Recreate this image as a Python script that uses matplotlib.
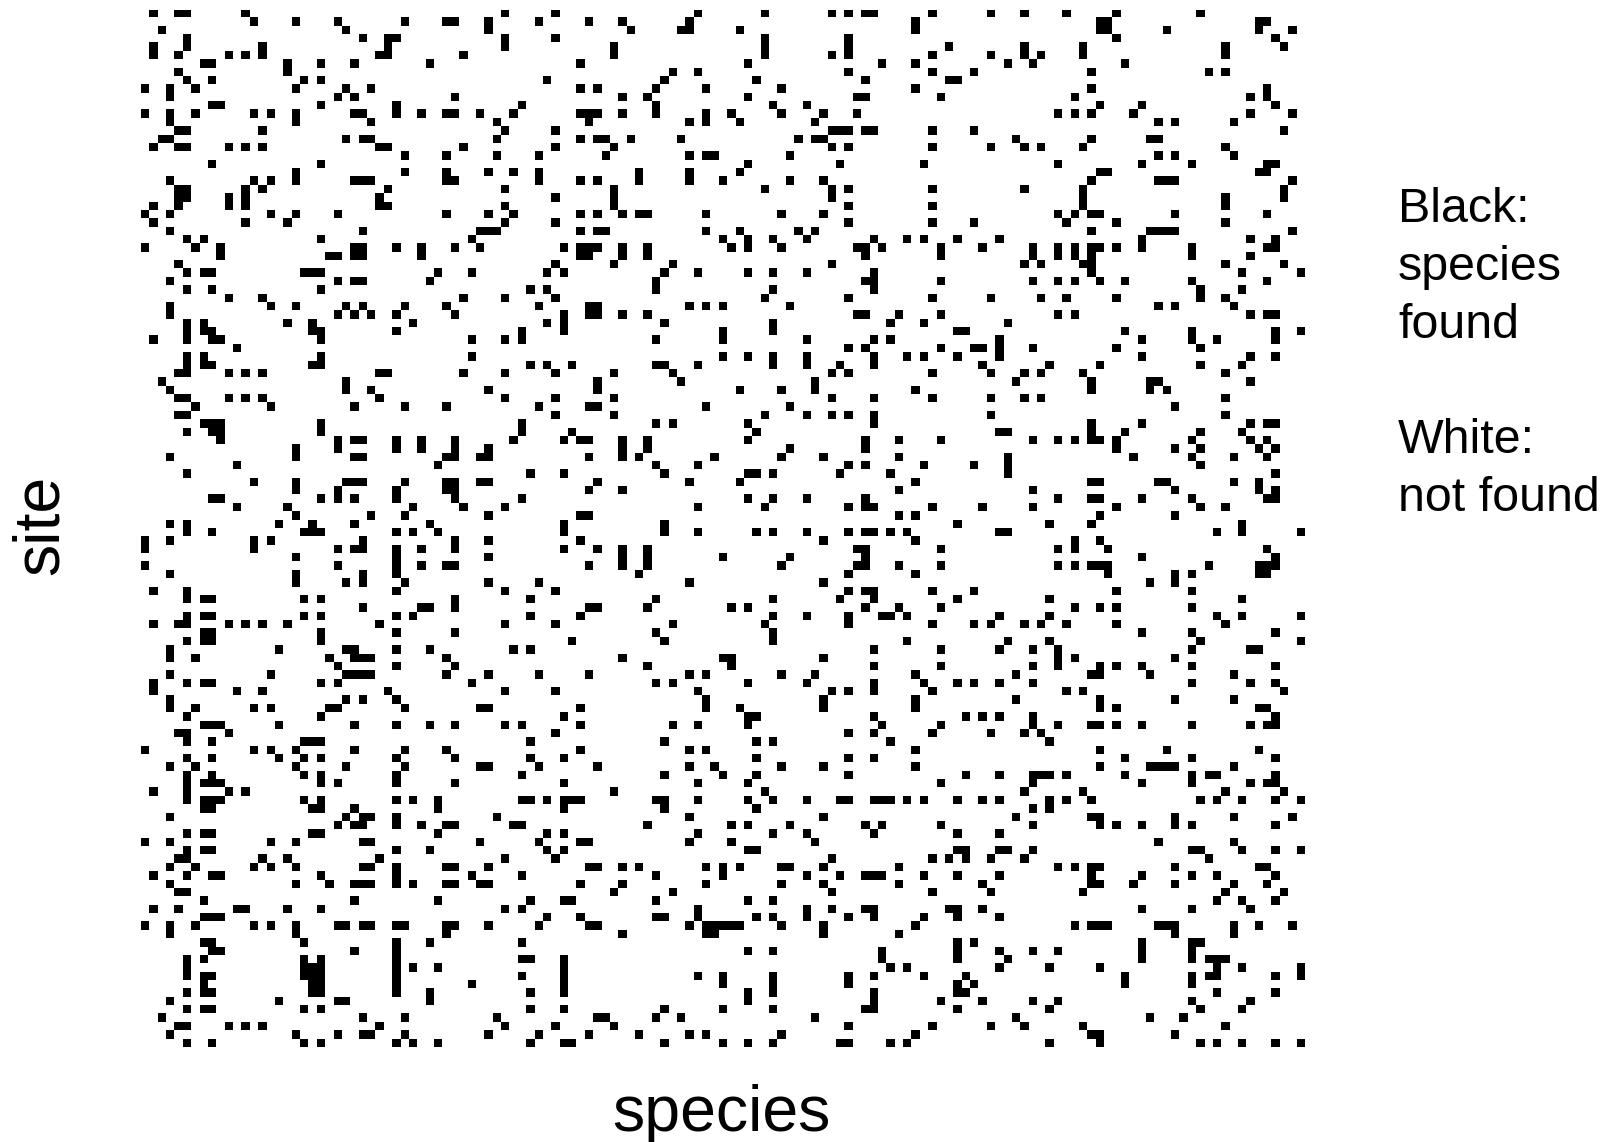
import numpy as np
import matplotlib
matplotlib.use('Agg')
import matplotlib.pyplot as plt

n_species = 139

# 每行: 该 site 发现的 species 下标
found = [
    [1,4,5,12,43,49,66,74,82,84,86,87,94,101,105,110,116,126],
    [13,18,23,31,36,37,41,47,53,57,65,92,114,115,133,134],
    [2,24,41,58,64,65,71,92,114,115,122,133,137],
    [5,26,29,30,43,49,74,84,116,135],
    [1,5,14,29,43,56,74,84,96,105,112,129,136],
    [1,4,10,12,14,28,29,38,56,74,82,84,94,101,105,107,112,129],
    [7,8,17,21,25,34,52,72,88,92,103,106,117],
    [4,17,63,66,84,94,99,113,127,129],
    [5,8,19,21,48,62,73,86,96,97],
    [0,3,6,18,24,27,52,54,61,67,76,92,113,134],
    [3,23,25,37,57,60,72,85,86,95,111,132,134],
    [8,9,21,30,45,61,75,79,114,119,135],
    [0,3,6,13,15,18,25,26,30,33,36,37,40,44,52,53,54,57,61,67,70,76,81,85,109,111,113,118,132,137],
    [3,18,27,42,53,65,67,71,80,121,123,130],
    [4,5,14,43,49,82,83,84,86,87,94,99,136],
    [2,3,24,26,27,42,52,54,55,58,64,78,80,81,104,113,120,121],
    [1,4,5,10,12,14,28,29,38,49,56,82,84,94,101,105,107,112,129],
    [31,36,42,47,55,65,67,68,77,121,123,130],
    [8,21,72,83,93,109,119,125,134,135],
    [18,31,36,41,44,47,59,65,71,114,115,133,134],
    [3,13,15,18,25,26,27,36,37,47,52,54,59,65,69,77,81,113,121,122,123,137],
    [4,5,12,14,29,43,56,74,82,84,94,105,112,136],
    [4,5,10,12,28,49,56,82,112,129,136],
    [1,4,10,12,28,29,43,56,84,94,112,129],
    [0,3,15,18,23,36,41,44,52,54,57,59,60,67,76,81,109,111,113,114,123,134],
    [1,12,17,43,49,84,94,99,110,116,129],
    [3,26,40,41,42,52,54,55,67,71,78,80,113,120,121,122,123,137],
    [5,7,21,39,69,72,75,79,87,91,93,97,102,119,132,135],
    [0,6,9,25,26,30,33,37,40,50,52,53,54,57,60,70,72,76,85,86,88,95,100,106,109,111,113,114,116,119,125,134,135],
    [9,22,23,25,26,33,52,53,57,60,86,95,106,109,111,113,125,132],
    [4,49,56,63,82,105,107,112,113,129,136],
    [5,7,8,19,20,21,35,39,48,50,62,66,72,75,79,87,113,131,138],
    [3,23,25,26,34,61,86,87,95,106,109,111,114,117,125,134],
    [5,8,21,46,48,61,75,87,126,131],
    [10,14,38,43,49,74,84,94,101,107,110,116,126,129],
    [3,15,18,24,26,31,36,47,53,54,65,67,69,77,121,123,130],
    [3,23,25,27,30,37,50,53,54,57,60,85,86,90,95,109,111,132,134,135],
    [5,7,17,20,32,48,50,62,75,89,93,103],
    [5,7,8,20,21,30,45,50,69,75,97,98,117,125,135,138],
    [1,5,8,9,21,39,43,45,61,69,79,87,89,102,119,125,128,135],
    [11,84,86,95,99,100,102,106,116,126],
    [5,7,21,39,69,72,75,79,87,91,93,97,102,119,132,135],
    [5,7,8,20,21,46,48,51,61,62,66,75,79,83,87,100,108,114,126,131],
    [4,5,10,12,14,28,29,38,43,49,56,63,82,84,94,101,105,107,112,129],
    [2,24,54,64,80,104,113,120,121,132],
    [3,24,27,41,54,71,76,80,92,113,120,122],
    [4,5,10,12,14,28,43,49,56,82,87,94,101,105,107,129],
    [6,15,25,31,36,47,53,54,67,77,123],
    [4,5,49,56,74,79,82,84,87,101,129],
    [7,8,9,21,45,61,63,72,87,113,119,132,134,135],
    [5,8,9,21,45,51,73,102,103,113,117,126,131],
    [9,23,25,26,30,33,37,44,50,52,53,57,60,72,86,90,95,106,109,111,113,114,116,125,132,134],
    [18,23,30,33,37,41,57,60,77,86,116,123,126,133,135],
    [3,18,25,26,36,37,40,41,53,57,59,68,76,81,90,103,118,125,130,134],
    [11,35,61,66,84,86,93,99,103,126],
    [5,46,50,62,72,73,75,83,89,103,135],
    [13,18,24,25,26,31,36,37,40,41,54,65,71,92,113,114,121,122,130,133],
    [18,23,30,36,37,53,57,90,106,123,133,135],
    [8,9,21,23,25,30,37,45,72,75,79,86,109,113,114,119,125,134,135],
    [11,17,32,38,43,66,74,84,86,87,94,100,106,116,126,129],
    [18,27,31,41,52,53,90,92,114,123],
    [3,5,16,20,25,34,50,62,97,108,113,131],
    [5,8,19,20,21,30,32,35,50,62,66,73,75,79,84,86,87,89,91,102,103,128,131,138],
    [0,3,13,15,26,37,41,52,81,92,111,114],
    [0,13,23,25,26,30,33,37,50,54,57,60,85,86,95,109,111,115,134],
    [18,30,41,57,60,69,77,86,119,135],
    [0,23,30,33,36,37,53,57,60,76,85,86,90,95,109,111,113,114,115,127,133,134,135],
    [3,18,26,30,59,84,92,115,123,125,133,134],
    [18,24,26,31,41,47,65,81,120,123],
    [1,5,30,43,49,84,86,87,94,99,116,125],
    [5,7,8,19,21,37,46,61,75,83,87,97,108,131],
    [26,33,34,37,53,54,60,70,72,86,90,95,111,114,116,125],
    [5,7,8,19,21,30,32,46,52,75,79,84,88,89,91,102,108,128,131,138],
    [1,4,5,10,12,14,17,28,43,49,63,74,84,94,99,101,105,107,110,116,129],
    [7,8,21,30,37,61,75,119,125,135],
    [5,7,8,21,51,62,75,91,103,108,126,138],
    [3,16,24,25,30,34,44,46,87,95,102,106,109,125,132,133],
    [3,6,22,25,26,27,36,57,69,70,81,109,111,123],
    [23,30,37,60,70,87,95,106,109,114,116,119,125,135],
    [3,15,24,25,26,27,36,41,47,53,65,67,76,80,92,104,113,114,120,130],
    [1,5,7,8,21,23,39,61,63,72,79,87,93,97,99,102,106,125,132,135],
    [1,11,14,29,43,49,66,82,84,87,94,110,112,136],
    [3,24,26,30,67,81,92,104,114,123,130],
    [3,6,13,15,22,23,31,40,41,52,67,71,81,92,114,116,133,134],
    [5,21,50,72,73,87,98,100,102,106,135],
    [7,8,9,16,25,30,34,37,43,45,52,63,66,72,88,95,106,109,113,114,116,119,125,132,134,135],
    [4,5,10,49,84,87,94,101,105,107],
    [5,8,19,20,21,46,62,73,75,89,108],
    [0,13,15,18,25,31,36,52,65,67,92,114,122,133],
    [5,8,16,19,21,30,37,46,50,73,84,87,117,125,135],
    [3,6,18,24,31,40,41,47,54,65,68,76,81,92,114,120,121,122,123,130],
    [5,8,19,21,30,45,62,69,73,84,98,102,106,107,108,110,117,125,127,128,135],
    [5,7,8,9,21,23,30,37,50,66,72,95,106,119,125,132,134,135],
    [1,5,10,12,56,74,105,112,129,136],
    [5,7,8,9,19,21,30,32,35,45,46,48,50,51,52,61,62,66,72,75,79,83,84,87,88,89,91,93,97,100,102,108,110,113,126,128,131,135,138],
    [7,8,20,21,25,35,50,62,73,106,108],
    [3,24,26,27,30,42,65,81,104,113,114,123,130,137],
    [23,25,26,30,33,36,37,44,45,60,70,72,77,86,88,95,106,114,116,119,123,125,135],
    [5,7,8,20,21,35,48,50,66,75,79,87,97,102],
    [0,3,15,18,26,27,40,47,52,53,65,70,80,121,130],
    [5,7,8,30,34,48,50,72,73,97,98,102,103,106,125,126,131,135,138],
    [4,5,14,17,28,43,49,82,94,96,98,101,105,127],
    [3,6,13,15,18,26,27,30,36,37,41,53,54,57,59,67,69,71,76,77,81,90,109,111,113,114,123,133,134],
    [1,5,8,9,21,30,39,45,61,69,79,83,86,87,88,93,97,102,113,119,125,128,135],
    [3,18,22,25,26,27,30,32,36,37,40,41,52,57,67,76,81,90,100,113,114,118,123,130,134],
    [4,5,56,63,82,94,101,112,129,136],
    [7,25,35,46,50,51,61,72,75,128,131,135],
    [1,4,11,12,17,21,43,45,66,79,82,86,87,96,97,100,119,125,132],
    [7,8,9,48,52,61,62,66,73,75,79,84,87,93,97,102],
    [0,3,6,13,15,18,23,24,26,27,30,31,36,37,41,47,53,54,65,67,68,69,70,71,76,81,92,111,113,114,115,121,122,123,130,133,137],
    [3,18,36,57,67,68,81,90,123,130],
    [7,8,19,30,34,45,97,99,119,125,126],
    [8,9,25,30,72,75,88,97,102,106,109,119,125],
    [5,7,19,21,30,45,46,50,88,97,103,119,125,127,128,129],
    [5,19,20,21,30,32,35,50,89,91,102,108,114,128,131,138],
    [5,7,8,19,20,21,30,45,50,66,69,75,84,87,93,98,117,125,127,128,135,138],
    [7,20,21,30,39,50,69,75,84,97,99,117,125],
    [5,7,8,20,21,30,34,46,50,72,75,87,97,98,128,135],
    [3,16,23,24,34,72,87,95,100,106,109,125,132],
    [5,7,8,19,21,46,50,62,69,75,86,87,97,108,126,131],
    [2,26,31,42,54,55,61,64,80,104,120,124],
    [4,5,10,12,14,28,43,49,56,84,94,101,105,112,129],
    [3,18,23,26,27,31,41,47,53,59,65,67,76,92,113,114,123],
    [5,8,19,21,30,32,35,46,50,51,62,69,72,75,83,84,89,91,108,114,126,128,131,135,138],
]

legend_lines = ['Black:', 'species', 'found', '', 'White:', 'not found']

plt.rcParams['font.family'] = ['Liberation Sans', 'DejaVu Sans']

W, H = 1613, 1142
fig = plt.figure(figsize=(W / 100, H / 100), dpi=100)

# 矩阵区域 (像素): x 140.5-1304.5, y 10.1-1047.5
ax = fig.add_axes([140.5 / W, 1 - 1047.5 / H, 1164.0 / W, 1037.4 / H])

mat = np.zeros((len(found), n_species))
for i, cols in enumerate(found):
    mat[i, cols] = 1

ax.imshow(mat, cmap='gray_r', vmin=0, vmax=1, aspect='auto', interpolation='nearest')
ax.axis('off')

fig.text(721 / W, 1 - 1114 / H, 'species', fontsize=46.4, ha='center', va='center', color='black')
fig.text(41 / W, 1 - 525 / H, 'site', fontsize=46.4, rotation=90, ha='center', va='center', color='black')

for k, line in enumerate(legend_lines):
    fig.text(1398 / W, 1 - (210 + k * 57.7) / H, line, fontsize=34.8, ha='left', va='center', color='black')

fig.savefig('out.png', dpi=100)
